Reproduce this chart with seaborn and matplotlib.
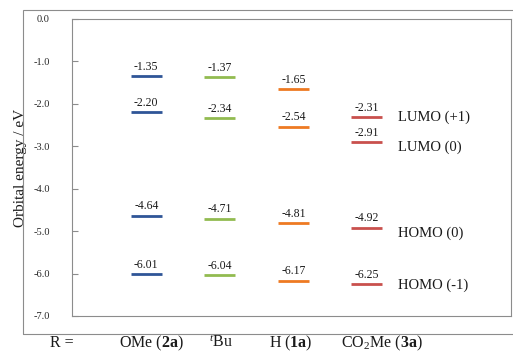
import matplotlib
matplotlib.use("Agg")
import matplotlib.pyplot as plt
from matplotlib.patches import Rectangle
import seaborn as sns
import pandas as pd

# Substituents (x categories) and their frontier-orbital energies (eV)
substituents = ["OMe (2a)", "tBu", "H (1a)", "CO2Me (3a)"]
axis_labels = [r"OMe ($\mathbf{2a}$)", r"$^{\mathit{t}}$Bu", r"H ($\mathbf{1a}$)",
               r"CO$_{2}$Me ($\mathbf{3a}$)"]
lumo_p1 = [-1.35, -1.37, -1.65, -2.31]
lumo_0 = [-2.20, -2.34, -2.54, -2.91]
homo_0 = [-4.64, -4.71, -4.81, -4.92]
homo_m1 = [-6.01, -6.04, -6.17, -6.25]
orbital_names = ["LUMO (+1)", "LUMO (0)", "HOMO (0)", "HOMO (-1)"]
yticks = [0.0, -1.0, -2.0, -3.0, -4.0, -5.0, -6.0, -7.0]

palette = ["#2F5597", "#92BB50", "#EE7A22", "#C9504D"]

records = []
for i, s in enumerate(substituents):
    for name, vals in zip(orbital_names, [lumo_p1, lumo_0, homo_0, homo_m1]):
        records.append({"R": s, "pos": i, "orbital": name, "E": vals[i]})
df = pd.DataFrame(records)

sns.set_theme(style="white")
plt.rcParams["font.family"] = ["Liberation Serif", "DejaVu Serif"]
plt.rcParams["mathtext.fontset"] = "custom"
plt.rcParams["mathtext.rm"] = "Liberation Serif"
plt.rcParams["mathtext.it"] = "Liberation Serif:italic"
plt.rcParams["mathtext.bf"] = "Liberation Serif:bold"

fig = plt.figure(figsize=(5.13, 3.53), dpi=100)
fig.patches.append(Rectangle((23 / 513, 19 / 353), 1.2, (334 - 10) / 353,
                             transform=fig.transFigure, fill=False,
                             edgecolor="#8C8C8C", linewidth=0.8, zorder=0))
ax = fig.add_axes([72 / 513, 37 / 353, 439 / 513, 297 / 353])

half = 0.21
for i, s in enumerate(substituents):
    sub = df[df["R"] == s]
    ax.hlines(sub["E"], sub["pos"] - half, sub["pos"] + half,
              color=palette[i], linewidth=2.0)
    for e in sub["E"]:
        ax.annotate(f"{e:.2f}", (i, e), xytext=(0, 2.5), textcoords="offset points",
                    ha="center", va="bottom", fontsize=8.5, color="#1A1A1A")

# Orbital labels on the right-hand side
label_y = [-2.31, -3.02, -5.04, -6.27]
for name, y in zip(orbital_names, label_y):
    ax.text(3.42, y, name, ha="left", va="center", fontsize=10.5, color="#1A1A1A")

ax.set_xlim(-1.01, 4.96)
ax.set_ylim(-7.0, 0.0)
ax.set_yticks(yticks)
ax.set_yticklabels([f"{v:.1f}" for v in yticks], fontsize=7.5, color="#262626")
ax.tick_params(axis="y", direction="in", length=4, width=0.8, color="#8C8C8C", pad=16, left=True)
ax.set_xticks([])
ax.set_ylabel("Orbital energy / eV", fontsize=11, color="#1A1A1A")
ax.yaxis.set_label_coords(-0.102, 0.5)
for sp in ax.spines.values():
    sp.set_color("#8C8C8C")
    sp.set_linewidth(0.8)

# Category labels below the axes
label_x = [0.075, 1.01, 1.97, 3.2]
ax.text(-1.15, -7.64, "R =", ha="center", va="center", fontsize=11.5, color="#1A1A1A")
for x, lab in zip(label_x, axis_labels):
    ax.text(x, -7.64, lab, ha="center", va="center", fontsize=11.5, color="#1A1A1A")

fig.savefig("out.png", dpi=100)
